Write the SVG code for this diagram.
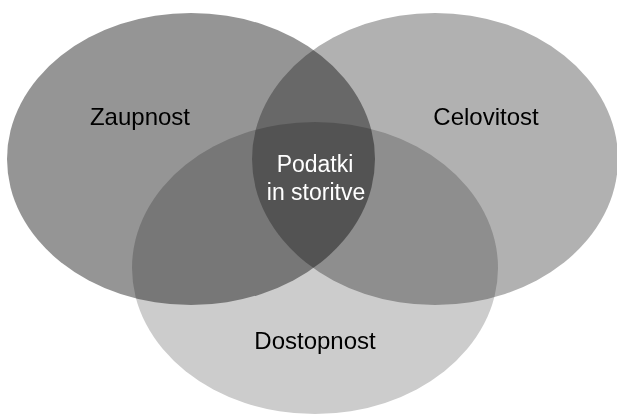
<svg xmlns="http://www.w3.org/2000/svg" width="617" height="414" viewBox="0 0 617 414">
<style>
.set{mix-blend-mode:multiply}
.lbl{font-family:"Liberation Sans",Arial,sans-serif;font-size:24px;text-anchor:middle;fill:#000}
.ctr{font-family:"Liberation Sans",Arial,sans-serif;font-size:23px;text-anchor:middle;fill:#fff}
</style>
<rect width="617" height="414" fill="#fff"/>
<g style="isolation:isolate">
<g id="zaupnost"><ellipse class="set" cx="191" cy="159" rx="184" ry="146" fill="#959595"/></g>
<g id="celovitost"><ellipse class="set" cx="435" cy="159" rx="183" ry="146" fill="#b1b1b1"/></g>
<g id="dostopnost"><ellipse class="set" cx="315" cy="268" rx="183" ry="146" fill="#cccccc"/></g>
</g>
<g id="connectors"></g>
<g id="labels">
<text class="lbl" x="140" y="125">Zaupnost</text>
<text class="lbl" x="486" y="125">Celovitost</text>
<text class="lbl" x="315" y="349">Dostopnost</text>
<g id="center"><text class="ctr" x="315" y="172">Podatki</text>
<text class="ctr" x="316" y="200">in storitve</text></g>
</g>
</svg>
